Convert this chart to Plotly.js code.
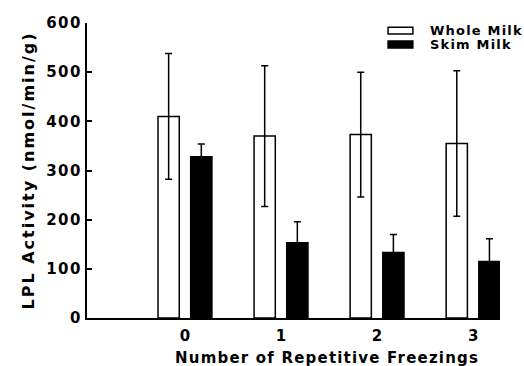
<!DOCTYPE html>
<html>
<head>
<meta charset="utf-8">
<script src="https://cdn.plot.ly/plotly-3.0.1.min.js"></script>
<style>
  html, body { margin: 0; padding: 0; background: #fff; }
  #chart { width: 524px; height: 366px; }
  .ytitle { letter-spacing: 2px; }
  .annotation-text { letter-spacing: 1.2px; }
  .ytick text { letter-spacing: 1.5px; }
</style>
</head>
<body>
<div id="chart"></div>
<script>
// Data
var freezings = [0, 1, 2, 3];
var tickLabels = ['0', '1', '2', '3'];
var wholeMilk = [410, 370, 373, 355];
var wholeMilkErr = [128, 143, 127, 148];
var skimMilk = [328, 153, 133, 115];
var skimMilkErr = [26, 43, 37, 46];
var seriesNames = ['Whole Milk', 'Skim Milk'];

var FONT = 'DejaVu Sans';

var traces = [
  {
    type: 'bar', name: seriesNames[0], x: freezings, y: wholeMilk,
    marker: { color: '#ffffff', line: { color: '#000000', width: 1.5 } },
    error_y: { type: 'data', array: wholeMilkErr, visible: true, color: '#000000', thickness: 1.5, width: 3.5 },
    showlegend: false
  },
  {
    type: 'bar', name: seriesNames[1], x: freezings, y: skimMilk,
    marker: { color: '#000000', line: { color: '#000000', width: 1.5 } },
    error_y: { type: 'data', array: skimMilkErr, visible: true, color: '#000000', thickness: 1.5, width: 3.5 },
    showlegend: false
  }
];

var layout = {
  width: 524, height: 366,
  margin: { l: 87, r: 24, t: 23, b: 48 },
  paper_bgcolor: '#ffffff', plot_bgcolor: '#ffffff',
  barmode: 'group', bargap: 0.32, bargroupgap: 0.35,
  font: { family: FONT, color: '#000000', size: 15, weight: 700 },
  xaxis: {
    range: [-1.02, 3.28], tickvals: freezings, ticktext: tickLabels,
    showline: true, linecolor: '#000000', linewidth: 2,
    ticks: '', showgrid: false, zeroline: false,
    tickfont: { family: FONT, size: 15, weight: 700 },
    ticklabelstandoff: 3
  },
  yaxis: {
    range: [0, 600], tickvals: [0, 100, 200, 300, 400, 500, 600],
    showline: true, linecolor: '#000000', linewidth: 2,
    ticks: 'inside', ticklen: 5, tickwidth: 2, tickcolor: '#000000',
    showgrid: false, zeroline: false,
    tickfont: { family: FONT, size: 15, weight: 700 },
    title: { text: 'LPL Activity (nmol/min/g)', font: { family: FONT, size: 16, weight: 700 }, standoff: 8 }
  },
  shapes: [
    { type: 'rect', xref: 'paper', yref: 'paper', x0: 0.729, x1: 0.789, y0: 0.963, y1: 0.986,
      line: { color: '#000000', width: 1.5 }, fillcolor: '#ffffff' },
    { type: 'rect', xref: 'paper', yref: 'paper', x0: 0.729, x1: 0.789, y0: 0.915, y1: 0.939,
      line: { color: '#000000', width: 1.5 }, fillcolor: '#000000' }
  ],
  annotations: [
    { xref: 'paper', yref: 'paper', x: 0.826, y: 0.976, xanchor: 'left', yanchor: 'middle',
      text: seriesNames[0], showarrow: false, font: { family: FONT, size: 13, weight: 700 } },
    { xref: 'paper', yref: 'paper', x: 0.826, y: 0.927, xanchor: 'left', yanchor: 'middle',
      text: seriesNames[1], showarrow: false, font: { family: FONT, size: 13, weight: 700 } },
    { xref: 'paper', yref: 'paper', x: 0.58, y: -0.137, xanchor: 'center', yanchor: 'middle',
      text: 'Number of Repetitive Freezings', showarrow: false, font: { family: FONT, size: 15, weight: 700 } }
  ]
};

Plotly.newPlot('chart', traces, layout, { staticPlot: true, displayModeBar: false });
</script>
</body>
</html>
